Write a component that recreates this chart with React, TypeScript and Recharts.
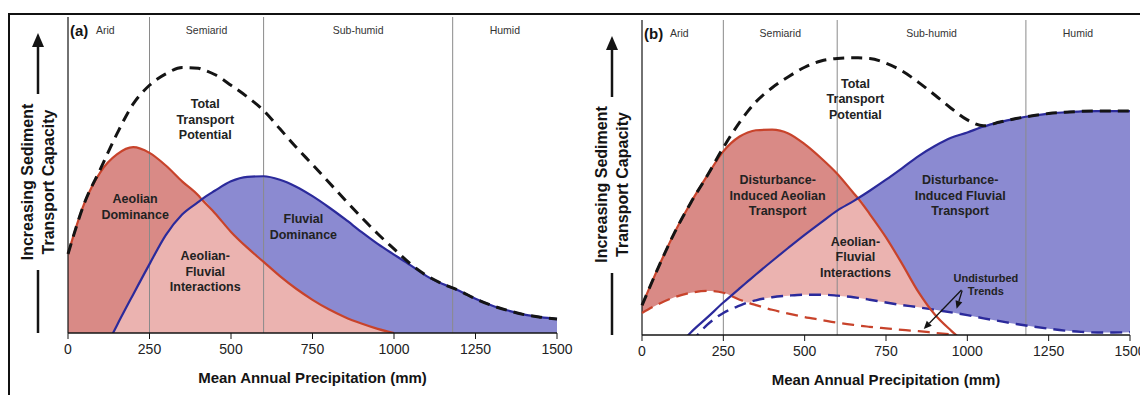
import React from "react";
import {
  ComposedChart,
  Area,
  Line,
  XAxis,
  YAxis,
  ReferenceLine,
  ReferenceArea,
  ReferenceDot,
} from "recharts";

const FONT = '"Liberation Sans", Arial, Helvetica, sans-serif';

// Mean annual precipitation (mm) and curve heights (0 = axis, 100 = top of frame)
const precipA = [0, 50, 100, 150, 200, 250, 300, 350, 400, 410, 450, 500, 550, 600, 650, 700, 750, 800, 850, 900, 950, 1000, 1050, 1100, 1150, 1200, 1250, 1300, 1350, 1400, 1450, 1500];
const totalA = [25, 41, 52, 63, 72.5, 78.4, 82, 84, 83.8, 83.5, 81.8, 78.4, 74.7, 70.4, 64.6, 58.8, 53.3, 47.7, 42.1, 36.6, 31.4, 26.6, 21.9, 18.2, 15.5, 13.4, 10.8, 8.7, 7.1, 5.8, 5.0, 4.4];
const aeolianA = [25, 41, 51, 56.5, 58.8, 57, 53, 48, 43.5, 42.3, 38, 32, 27, 22.5, 18, 14, 10.5, 7.5, 5, 3, 1.3, 0, null, null, null, null, null, null, null, null, null, null];
const fluvialA = [null, null, -8, 2.4, 12.2, 21.8, 31, 37.5, 41.5, 42.3, 45, 48, 49.4, 49.6, 48.5, 46.3, 43.3, 39.8, 36, 32, 28.2, 24.8, 21.5, 18, 15.5, 13.4, 10.8, 8.7, 7.1, 5.8, 5.0, 4.4];

const precipB = [0, 50, 100, 150, 200, 250, 300, 325, 350, 400, 450, 500, 550, 600, 650, 664, 700, 750, 800, 850, 900, 950, 1000, 1050, 1100, 1150, 1200, 1250, 1300, 1350, 1400, 1450, 1500];
const totalB = [9.4, 21.4, 32.5, 42, 50.5, 59.5, 67.5, 71, 74, 78.5, 82, 85, 87, 87.8, 88, 88, 87.8, 86.3, 83.8, 80.2, 76.2, 72, 68.3, 66.4, 67.6, 68.7, 69.6, 70.3, 70.7, 71, 71.1, 71.1, 71.1];
const aeolianB = [9.4, 21.4, 32.5, 42, 50.5, 58.3, 63, 64.3, 65, 65.2, 64, 60.6, 56.2, 51.2, 45.1, 43.4, 38.4, 31, 22.5, 13.6, 6.5, 1.4, -3, null, null, null, null, null, null, null, null, null, null];
const fluvialB = [null, null, -5, 0.8, 5.5, 10.3, 14.8, 17, 19.2, 23.5, 27.7, 31.8, 35.7, 39.5, 42.5, 43.4, 45.8, 49.3, 53, 56.8, 60, 62.6, 64.3, 66.2, 67.6, 68.7, 69.6, 70.3, 70.7, 71, 71.1, 71.1, 71.1];
const undisturbedAeolianB = [7, 9.8, 12, 13.4, 14, 13.4, 11.2, 10.3, 9.5, 8, 6.8, 5.7, 4.8, 3.9, 3.2, 3.0, 2.6, 2.1, 1.6, 1.2, 0.7, 0.2, null, null, null, null, null, null, null, null, null, null, null];
const undisturbedFluvialB = [null, null, null, -2.5, 3.2, 7, 9.3, 10.3, 11, 12, 12.5, 12.8, 12.8, 12.5, 12, 11.8, 11.2, 10.3, 9.5, 8.8, 8, 7.2, 6.3, 5.3, 4.4, 3.5, 2.7, 2, 1.4, 1, 0.8, 0.8, 0.9];

const xTicks = [0, 250, 500, 750, 1000, 1250, 1500];

const zoneNames = ["Arid", "Semiarid", "Sub-humid", "Humid"];
const zoneEdges = [0, 250, 600, 1180, 1500];

const notesA = [
  { x: 421, y: 67.6, lines: ["Total", "Transport", "Potential"] },
  { x: 206, y: 39.9, lines: ["Aeolian", "Dominance"] },
  { x: 421, y: 19.5, lines: ["Aeolian-", "Fluvial", "Interactions"] },
  { x: 722, y: 33.6, lines: ["Fluvial", "Dominance"] },
];
const notesB = [
  { x: 656, y: 74.9, lines: ["Total", "Transport", "Potential"] },
  { x: 417, y: 44.4, lines: ["Disturbance-", "Induced Aeolian", "Transport"] },
  { x: 978, y: 44.4, lines: ["Disturbance-", "Induced Fluvial", "Transport"] },
  { x: 656, y: 24.8, lines: ["Aeolian-", "Fluvial", "Interactions"] },
  { x: 1057, y: 16, lines: ["Undisturbed", "Trends"], small: true },
];
const pointersB = [
  { from: [982, 14.3], to: [866, 1.9] },
  { from: [984, 14.1], to: [967, 8.3] },
];

const C = {
  aeolianFill: "#d98a86",
  overlapFill: "#ebb3b0",
  fluvialFill: "#8b8ad1",
  red: "#c8432b",
  blue: "#2b2a9b",
  ink: "#141414",
  divider: "#8a8a8a",
};

type Num = number | null;
const lower = (a: Num, b: Num) => (a == null || b == null ? null : Math.min(a, b));
const upper = (a: Num, b: Num) => (a == null ? b : b == null ? a : Math.max(a, b));

const rowsA = precipA.map((p, i) => ({
  p,
  total: totalA[i],
  aeolian: aeolianA[i],
  fluvial: fluvialA[i],
  overlap: lower(aeolianA[i], fluvialA[i]),
}));

const rowsB = precipB.map((p, i) => ({
  p,
  total: totalB[i],
  aeolian: aeolianB[i],
  fluvial: fluvialB[i],
  overlap: lower(aeolianB[i], fluvialB[i]),
  undistAeolian: undisturbedAeolianB[i],
  undistFluvial: undisturbedFluvialB[i],
  floor: upper(undisturbedAeolianB[i], undisturbedFluvialB[i]),
}));

// y-axis title with the arrow, hung on the left frame line
function YTitle({ viewBox }: any) {
  const { x, y, height } = viewBox;
  const ax = x - 30;
  const cy = y + height / 2 + 7;
  return (
    <g fontFamily={FONT} fill={C.ink}>
      <line x1={ax} y1={y + 27} x2={ax} y2={y + 77} stroke={C.ink} strokeWidth={2.5} />
      <polygon points={`${ax},${y + 16} ${ax - 6},${y + 30} ${ax + 6},${y + 30}`} fill={C.ink} />
      <line x1={ax} y1={y + 253} x2={ax} y2={y + height} stroke={C.ink} strokeWidth={2.5} />
      <text transform={`translate(${x - 41},${cy}) rotate(-90)`} textAnchor="middle" dy="0.35em" fontSize={16} fontWeight="bold">
        Increasing Sediment
      </text>
      <text transform={`translate(${x - 20},${cy}) rotate(-90)`} textAnchor="middle" dy="0.35em" fontSize={16} fontWeight="bold">
        Transport Capacity
      </text>
    </g>
  );
}

function XTitle({ viewBox }: any) {
  const { x, y, width } = viewBox;
  return (
    <text x={x + width / 2} y={y + 50} textAnchor="middle" fontSize={15} fontWeight="bold" fontFamily={FONT} fill={C.ink}>
      Mean Annual Precipitation (mm)
    </text>
  );
}

const zoneLabel = (name: string, tag: string | null) => ({ viewBox }: any) => {
  const { x, y, width } = viewBox;
  if (tag) {
    return (
      <g fontFamily={FONT}>
        <text x={x + 2} y={y + 18.5} fontSize={15} fontWeight="bold" fill={C.ink}>{tag}</text>
        <text x={x + 28} y={y + 17} fontSize={10.5} fill="#333">{name}</text>
      </g>
    );
  }
  return (
    <text x={x + width / 2} y={y + 17} textAnchor="middle" fontSize={10.5} fill="#333" fontFamily={FONT}>
      {name}
    </text>
  );
};

const noteShape = (lines: string[], small?: boolean) => (props: any) => {
  const { cx, cy } = props;
  const size = small ? 11 : 12.5;
  const lh = small ? 13.3 : 15.7;
  const y0 = cy - ((lines.length - 1) * lh) / 2 + size * 0.35;
  return (
    <text textAnchor="middle" fontSize={size} fontWeight="bold" fill="#222" fontFamily={FONT}>
      {lines.map((l, i) => (
        <tspan key={i} x={cx} y={y0 + i * lh}>{l}</tspan>
      ))}
    </text>
  );
};

function Pointer(props: any) {
  const { x1, y1, x2, y2 } = props;
  const ang = Math.atan2(y2 - y1, x2 - x1);
  const L = 8;
  const W = 3.5;
  const bx = x2 - L * Math.cos(ang);
  const by = y2 - L * Math.sin(ang);
  const px = W * Math.sin(ang);
  const py = W * Math.cos(ang);
  return (
    <g>
      <line x1={x1} y1={y1} x2={bx} y2={by} stroke={C.ink} strokeWidth={1.3} />
      <polygon points={`${x2},${y2} ${bx + px},${by - py} ${bx - px},${by + py}`} fill={C.ink} />
    </g>
  );
}

function Panel({ rows, tag, notes, pointers, undisturbed, marginTop, marginRight, height }: any) {
  return (
    <ComposedChart
      width={575}
      height={height}
      data={rows}
      margin={{ top: marginTop, right: marginRight, left: 60, bottom: 5 }}
    >
      <XAxis
        dataKey="p"
        type="number"
        domain={[0, 1500]}
        ticks={xTicks}
        interval={0}
        height={55}
        tickSize={6}
        tickMargin={5}
        axisLine={{ stroke: C.ink, strokeWidth: 1.5 }}
        tickLine={{ stroke: C.ink }}
        tick={{ fontSize: 14, fill: "#222", fontFamily: FONT }}
        label={XTitle}
      />
      <XAxis
        xAxisId="top"
        orientation="top"
        dataKey="p"
        type="number"
        domain={[0, 1500]}
        height={0}
        tick={false}
        tickLine={false}
        axisLine={{ stroke: C.ink, strokeWidth: 1.2 }}
      />
      <YAxis
        domain={[0, 100]}
        allowDataOverflow
        width={0}
        tick={false}
        tickLine={false}
        axisLine={{ stroke: C.ink, strokeWidth: 1.2 }}
      />
      <YAxis
        yAxisId="right"
        orientation="right"
        domain={[0, 100]}
        width={0}
        tick={false}
        tickLine={false}
        axisLine={{ stroke: C.ink, strokeWidth: 1.2 }}
      />

      <Area type="monotone" dataKey="aeolian" fill={C.aeolianFill} fillOpacity={1} stroke="none" isAnimationActive={false} activeDot={false} />
      <Area type="monotone" dataKey="fluvial" fill={C.fluvialFill} fillOpacity={1} stroke="none" isAnimationActive={false} activeDot={false} />
      <Area type="monotone" dataKey="overlap" fill={C.overlapFill} fillOpacity={1} stroke="none" isAnimationActive={false} activeDot={false} />
      {undisturbed && (
        <Area type="monotone" dataKey="floor" fill="#ffffff" fillOpacity={1} stroke="none" isAnimationActive={false} activeDot={false} />
      )}

      {zoneNames.map((name, i) => (
        <ReferenceArea
          key={name}
          x1={zoneEdges[i]}
          x2={zoneEdges[i + 1]}
          fill="none"
          fillOpacity={0}
          stroke="none"
          label={zoneLabel(name, i === 0 ? tag : null)}
        />
      ))}
      {zoneEdges.slice(1, -1).map((e) => (
        <ReferenceLine key={e} x={e} stroke={C.divider} strokeWidth={1} />
      ))}
      <ReferenceLine x={0} stroke={C.ink} strokeWidth={1.2} label={YTitle} />

      {undisturbed && (
        <Line type="monotone" dataKey="undistAeolian" stroke={C.red} strokeWidth={2.2} strokeDasharray="12 7" dot={false} isAnimationActive={false} />
      )}
      {undisturbed && (
        <Line type="monotone" dataKey="undistFluvial" stroke={C.blue} strokeWidth={2.4} strokeDasharray="12 7" dot={false} isAnimationActive={false} />
      )}
      <Line type="monotone" dataKey="aeolian" stroke={C.red} strokeWidth={2.2} dot={false} isAnimationActive={false} />
      <Line type="monotone" dataKey="fluvial" stroke={C.blue} strokeWidth={2.2} dot={false} isAnimationActive={false} />
      <Line type="monotone" dataKey="total" stroke={C.ink} strokeWidth={3} strokeDasharray="11 7" dot={false} isAnimationActive={false} />

      {notes.map((n: any, i: number) => (
        <ReferenceDot key={i} x={n.x} y={n.y} r={0} shape={noteShape(n.lines, n.small)} />
      ))}
      {(pointers || []).map((pt: any, i: number) => (
        <ReferenceLine
          key={"ptr" + i}
          segment={[
            { x: pt.from[0], y: pt.from[1] },
            { x: pt.to[0], y: pt.to[1] },
          ]}
          shape={Pointer}
        />
      ))}
    </ComposedChart>
  );
}

export default function App() {
  return (
    <div style={{ position: "relative", width: 1140, height: 387, fontFamily: FONT, overflow: "hidden" }}>
      <div
        style={{
          position: "absolute",
          left: 0,
          top: 5,
          width: 1140,
          height: 382,
          borderTop: "2px solid #111",
          borderLeft: "2px solid #111",
          boxSizing: "border-box",
        }}
      />
      <div style={{ position: "absolute", left: 0, top: 0 }}>
        <Panel rows={rowsA} tag="(a)" notes={notesA} marginTop={9} marginRight={26} height={385} />
      </div>
      <div style={{ position: "absolute", left: 574, top: 0 }}>
        <Panel
          rows={rowsB}
          tag="(b)"
          notes={notesB}
          pointers={pointersB}
          undisturbed
          marginTop={12}
          marginRight={27}
          height={387}
        />
      </div>
    </div>
  );
}
